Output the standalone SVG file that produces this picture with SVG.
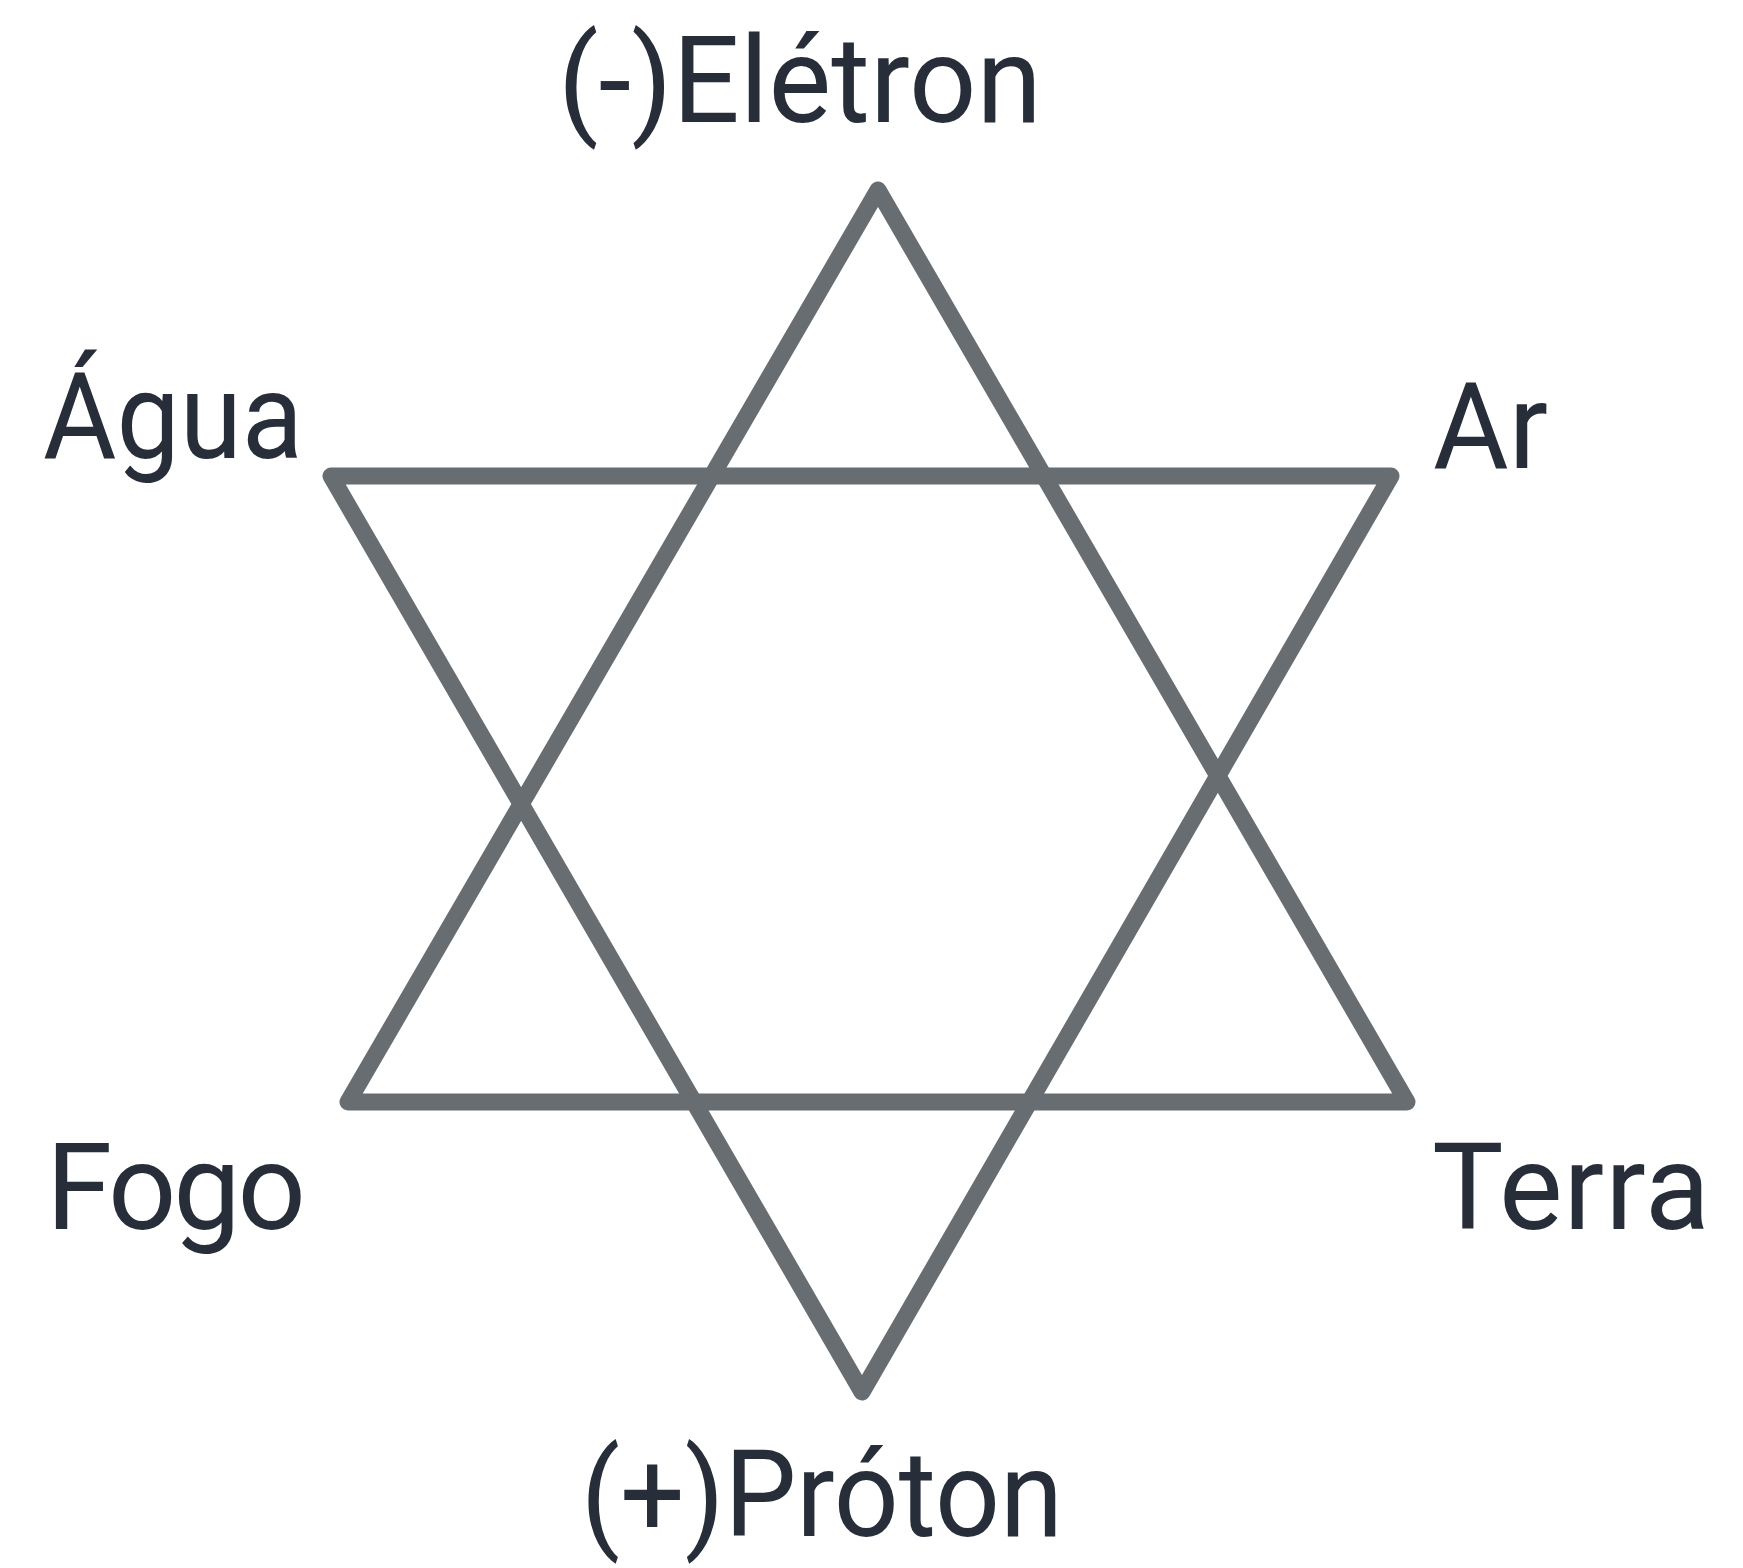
<svg xmlns="http://www.w3.org/2000/svg" width="1743" height="1568" viewBox="0 0 1743 1568">
<style>
.tri{fill:none;stroke:#676d71;stroke-width:17;stroke-linejoin:round;stroke-linecap:round}
.lbl{font-family:Roboto,"Liberation Sans",sans-serif;font-size:120px;fill:#272e3a}
</style>
<rect width="1743" height="1568" fill="#ffffff"/>
<g id="connectors">
<polygon id="tri-up" class="tri" points="878,190 348,1102 1407,1102"/>
<polygon id="tri-down" class="tri" points="331,476 1391,476 862,1392"/>
</g>
<g id="eletron"><text class="lbl" x="558" y="122" textLength="484" lengthAdjust="spacingAndGlyphs">(-)Elétron</text></g>
<g id="agua"><text class="lbl" x="43" y="458" textLength="260" lengthAdjust="spacingAndGlyphs">Água</text></g>
<g id="ar"><text class="lbl" x="1433" y="468" textLength="115" lengthAdjust="spacingAndGlyphs">Ar</text></g>
<g id="fogo"><text class="lbl" x="46" y="1229" textLength="260" lengthAdjust="spacing">Fogo</text></g>
<g id="terra"><text class="lbl" x="1432" y="1229" textLength="278" lengthAdjust="spacing">Terra</text></g>
<g id="proton"><text class="lbl" x="581" y="1536" font-size="112" textLength="482" lengthAdjust="spacingAndGlyphs">(+)Próton</text></g>
</svg>
